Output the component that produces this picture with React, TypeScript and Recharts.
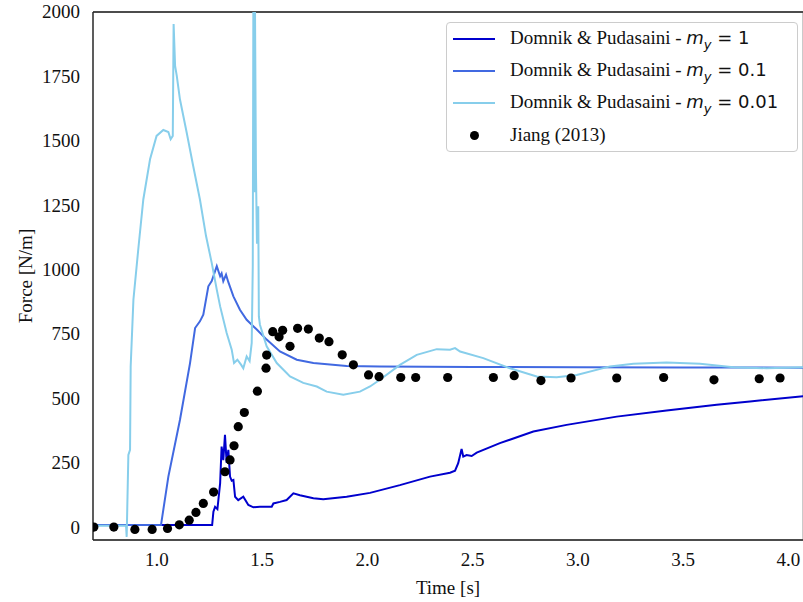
import {
  ComposedChart,
  Line,
  Scatter,
  XAxis,
  YAxis,
  CartesianGrid,
  ReferenceLine,
  Label,
} from "recharts";

// m_y = 1
const myOneTime = [
  0.7, 1.262, 1.268, 1.276, 1.287, 1.3, 1.307, 1.315, 1.323, 1.331, 1.339, 1.347, 1.355, 1.363,
  1.371, 1.386, 1.41, 1.434, 1.458, 1.489, 1.545, 1.553, 1.584, 1.616, 1.648, 1.679, 1.711,
  1.743, 1.79, 1.901, 2.012, 2.154, 2.297, 2.392, 2.416, 2.431, 2.447, 2.455, 2.471, 2.495,
  2.519, 2.629, 2.788, 2.946, 3.184, 3.421, 3.659, 3.817, 4.07,
];
const myOneForce = [
  8, 8, 60, 79, 70, 171, 313, 260, 358, 249, 300, 196, 180, 183, 118, 105, 118, 86, 77, 79, 79,
  92, 98, 105, 131, 124, 118, 112, 108, 118, 133, 163, 196, 211, 219, 248, 303, 274, 280, 276,
  289, 326, 371, 397, 429, 453, 475, 488, 508,
];

// m_y = 0.1
const myTenthTime = [
  0.7, 1.019, 1.054, 1.109, 1.157, 1.181, 1.204, 1.22, 1.244, 1.26, 1.276, 1.284, 1.3, 1.307,
  1.315, 1.328, 1.339, 1.363, 1.394, 1.426, 1.474, 1.521, 1.584, 1.664, 1.743, 1.901, 2.059,
  2.5, 3.0, 3.5, 4.07,
];
const myTenthForce = [
  8, 8, 196, 416, 637, 773, 799, 825, 935, 955, 994, 1013, 974, 985, 955, 980, 951, 896, 844,
  805, 767, 728, 682, 650, 637, 626, 624, 622, 621, 620, 619,
];

// m_y = 0.01
const myHundredthTime = [
  0.7, 0.853, 0.856, 0.864, 0.872, 0.875, 0.888, 0.911, 0.935, 0.967, 0.998, 1.03, 1.054,
  1.065, 1.075, 1.079, 1.086, 1.094, 1.109, 1.141, 1.172, 1.204, 1.233, 1.26, 1.284, 1.3, 1.331,
  1.355, 1.366, 1.382, 1.4, 1.41, 1.426, 1.44, 1.45, 1.455, 1.458, 1.462, 1.465, 1.47, 1.475,
  1.481, 1.484, 1.489, 1.521, 1.569, 1.632, 1.695, 1.759, 1.806, 1.885, 1.964, 2.012, 2.059,
  2.154, 2.234, 2.329, 2.392, 2.416, 2.44, 2.55, 2.677, 2.804, 2.899, 2.994, 3.152, 3.263,
  3.421, 3.58, 3.738, 3.896, 4.07,
];
const myHundredthForce = [
  5, 5, -38, 280, 300, 624, 883, 1078, 1272, 1428, 1519, 1542, 1534, 1506, 1519, 1953, 1791,
  1752, 1661, 1532, 1402, 1272, 1130, 1026, 922, 857, 754, 689, 637, 650, 630, 617, 663, 645,
  715, 1013, 2100, 1300, 2100, 1389, 1100, 1246, 818, 786, 702, 637, 585, 560, 546, 526, 514,
  526, 546, 572, 630, 669, 691, 689, 695, 682, 656, 617, 585, 582, 591, 624, 634, 639, 634,
  621, 617, 621,
];

// Jiang (2013)
const jiangTime = [
  0.7, 0.795, 0.895, 0.977, 1.05, 1.106, 1.153, 1.185, 1.22, 1.269, 1.323, 1.347, 1.366, 1.386,
  1.415, 1.477, 1.518, 1.521, 1.55, 1.58, 1.597, 1.632, 1.668, 1.719, 1.771, 1.817, 1.88, 1.933,
  2.005, 2.055, 2.158, 2.229, 2.381, 2.598, 2.697, 2.824, 2.967, 3.184, 3.407, 3.646, 3.861,
  3.96,
];
const jiangForce = [
  0, 0, -9, -9, -5, 9, 27, 57, 92, 136, 215, 261, 316, 390, 445, 528, 617, 668, 759, 739, 764,
  702, 772, 769, 734, 720, 669, 630, 591, 584, 581, 581, 581, 581, 588, 569, 579, 579, 581, 572,
  576, 579,
];

const xTicks = [1.0, 1.5, 2.0, 2.5, 3.0, 3.5, 4.0];
const yTicks = [0, 250, 500, 750, 1000, 1250, 1500, 1750, 2000];

const C_ONE = "#0000cd";
const C_TENTH = "#4169e1";
const C_HUNDREDTH = "#87ceeb";

const toPoints = (t: number[], f: number[]) => t.map((x, i) => ({ t: x, f: f[i] }));

const myOne = toPoints(myOneTime, myOneForce);
const myTenth = toPoints(myTenthTime, myTenthForce);
const myHundredth = toPoints(myHundredthTime, myHundredthForce);
const jiang = toPoints(jiangTime, jiangForce);

const serif = "Liberation Serif";
const sans = "DejaVu Sans";

const legendItems = [
  { value: "1", color: C_ONE },
  { value: "0.1", color: C_TENTH },
  { value: "0.01", color: C_HUNDREDTH },
];

const YTitle = () => (
  <text
    x={25}
    y={276}
    transform="rotate(-90, 25, 276)"
    textAnchor="middle"
    dominantBaseline="central"
    fontFamily={serif}
    fontSize={19}
    fill="#111"
  >
    Force [N/m]
  </text>
);

// tick labels drawn from reference lines, so the library scale places them
const xTickLabel = (v: number) => (props: any) => {
  const vb = props.viewBox || {};
  return (
    <text
      x={vb.x}
      y={(vb.y ?? 12) + (vb.height ?? 528) + 12}
      dy="0.72em"
      textAnchor="middle"
      fontFamily={serif}
      fontSize={19}
      fill="#111"
    >
      {v.toFixed(1)}
    </text>
  );
};

const yTickLabel = (v: number) => (props: any) => {
  const vb = props.viewBox || {};
  return (
    <text
      x={(vb.x ?? 93) - 13}
      y={vb.y}
      dy="0.34em"
      textAnchor="end"
      fontFamily={serif}
      fontSize={19}
      fill="#111"
    >
      {v}
    </text>
  );
};

export default function App() {
  return (
    <div
      style={{
        position: "absolute",
        left: 0,
        top: 0,
        width: 803,
        height: 602,
        background: "#fff",
        fontFamily: serif,
      }}
    >
      <ComposedChart width={803} height={602} margin={{ top: 12, right: 0, bottom: 0, left: 0 }}>
        <CartesianGrid stroke="#b8b8b8" strokeWidth={1.5} />
        <XAxis
          type="number"
          dataKey="t"
          domain={[0.696, 4.069]}
          ticks={xTicks}
          allowDataOverflow
          height={62}
          tick={false}
          tickSize={6}
          axisLine={{ stroke: "#222", strokeWidth: 1.3 }}
          tickLine={{ stroke: "#222", strokeWidth: 1.3 }}
        >
          <Label
            value="Time [s]"
            position="insideBottom"
            offset={8}
            style={{ fontFamily: serif, fontSize: 19, fill: "#111" }}
          />
        </XAxis>
        <YAxis
          type="number"
          dataKey="f"
          domain={[-50, 2000]}
          ticks={yTicks}
          allowDataOverflow
          width={93}
          tick={false}
          tickSize={7}
          axisLine={{ stroke: "#222", strokeWidth: 1.3 }}
          tickLine={{ stroke: "#222", strokeWidth: 1.3 }}
          label={<YTitle />}
        />
        <ReferenceLine y={2000} stroke="#222" strokeWidth={1.3} />
        {xTicks.map((v) => (
          <ReferenceLine key={`xl-${v}`} x={v} stroke="none" label={xTickLabel(v)} />
        ))}
        {yTicks.map((v) => (
          <ReferenceLine key={`yl-${v}`} y={v} stroke="none" label={yTickLabel(v)} />
        ))}
        <Line
          data={myOne}
          dataKey="f"
          type="linear"
          stroke={C_ONE}
          strokeWidth={2}
          dot={false}
          isAnimationActive={false}
        />
        <Line
          data={myTenth}
          dataKey="f"
          type="linear"
          stroke={C_TENTH}
          strokeWidth={2}
          dot={false}
          isAnimationActive={false}
        />
        <Line
          data={myHundredth}
          dataKey="f"
          type="linear"
          stroke={C_HUNDREDTH}
          strokeWidth={2}
          dot={false}
          isAnimationActive={false}
        />
        <Scatter
          data={jiang}
          dataKey="f"
          fill="#000"
          isAnimationActive={false}
          shape={(p: any) => <circle cx={p.cx} cy={p.cy} r={4.6} fill="#000" />}
        />
      </ComposedChart>

      <div
        style={{
          position: "absolute",
          left: 446,
          top: 22,
          width: 352,
          height: 130,
          background: "rgba(255,255,255,0.8)",
          border: "1px solid #cccccc",
          borderRadius: 4,
          boxSizing: "border-box",
        }}
      >
        {legendItems.map((it, i) => (
          <div
            key={it.value}
            style={{ position: "absolute", left: 0, top: 2 + i * 32, height: 28, display: "flex", alignItems: "center" }}
          >
            <div style={{ width: 42, height: 0, borderTop: `2px solid ${it.color}`, marginLeft: 6 }} />
            <span style={{ marginLeft: 15, fontFamily: serif, fontSize: 19, color: "#111", whiteSpace: "nowrap" }}>
              Domnik &amp; Pudasaini -{" "}
              <span style={{ fontFamily: sans, fontSize: 18 }}>
                <i>m</i>
                <sub style={{ fontSize: 13, fontStyle: "italic" }}>y</sub> = {it.value}
              </span>
            </span>
          </div>
        ))}
        <div style={{ position: "absolute", left: 0, top: 2 + 3 * 32, height: 28, display: "flex", alignItems: "center" }}>
          <div style={{ width: 42, marginLeft: 6, display: "flex", justifyContent: "center" }}>
            <div style={{ width: 9, height: 9, borderRadius: "50%", background: "#000" }} />
          </div>
          <span style={{ marginLeft: 15, fontFamily: serif, fontSize: 19, color: "#111" }}>Jiang (2013)</span>
        </div>
      </div>
    </div>
  );
}
